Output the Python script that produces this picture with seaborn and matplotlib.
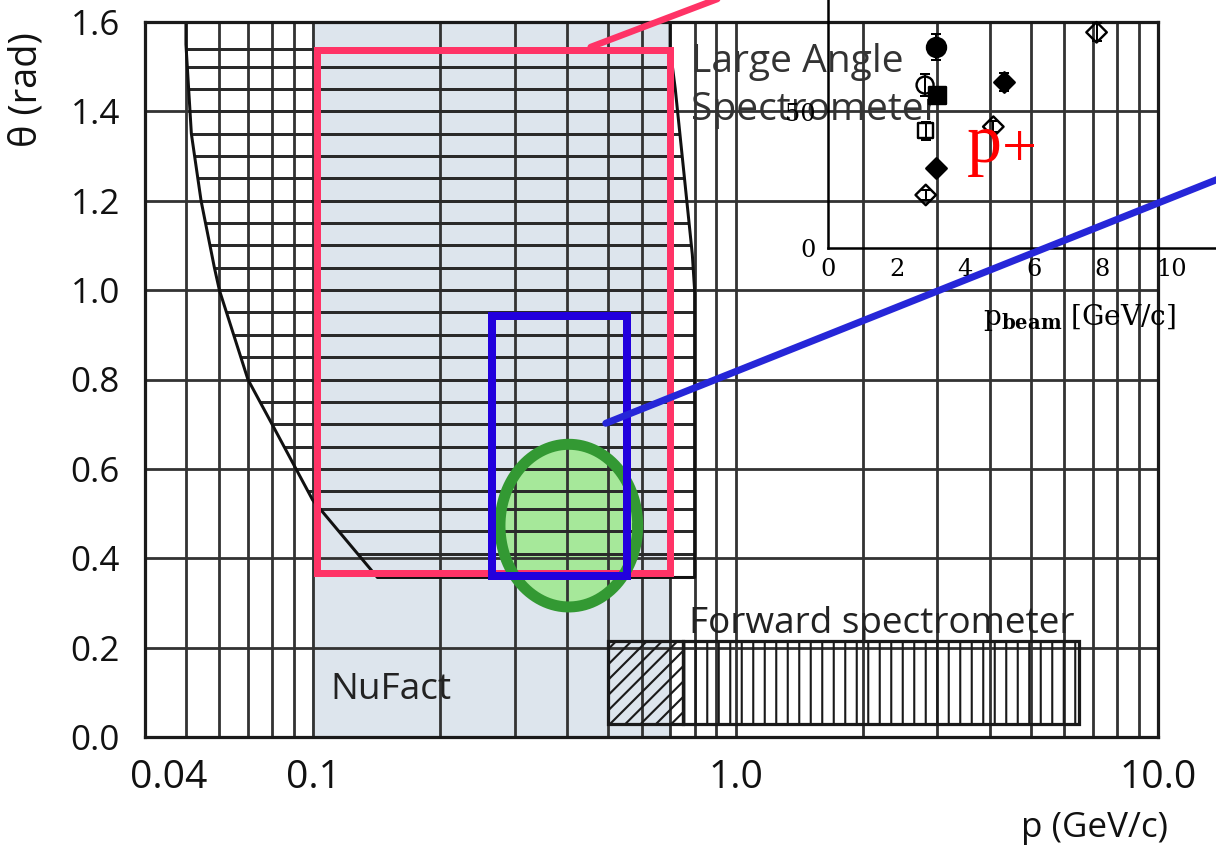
import numpy as np
import pandas as pd
import matplotlib
matplotlib.use("Agg")
import matplotlib.pyplot as plt
import seaborn as sns
from matplotlib.patches import Rectangle, Polygon, ConnectionPatch
from matplotlib.ticker import FixedLocator, LogLocator, NullFormatter, MultipleLocator
from matplotlib.transforms import ScaledTranslation

# ----------------------------------------------------------------------
# values
# ----------------------------------------------------------------------
P_TICKS = [0.04, 0.1, 1.0, 10.0]
P_TICK_LABELS = ['0.04', '0.1', '1.0', '10.0']
THETA_TICKS = [0.0, 0.2, 0.4, 0.6, 0.8, 1.0, 1.2, 1.4, 1.6]

# NuFact band
NUFACT_P = [0.1, 0.7]
NUFACT_THETA = [0.0, 1.6]

# large angle spectrometer acceptance (hatched)
LAS_LEFT_P = [0.050, 0.050, 0.0515, 0.0543, 0.0584, 0.0600, 0.0701, 0.0810, 0.0998, 0.142]
LAS_LEFT_THETA = [1.60, 1.55, 1.35, 1.20, 1.05, 1.00, 0.80, 0.69, 0.53, 0.357]
LAS_RIGHT_P = [0.80, 0.80, 0.79, 0.72, 0.70, 0.70]
LAS_RIGHT_THETA = [0.357, 1.00, 1.08, 1.45, 1.54, 1.60]
LAS_HATCH_THETA = [0.41, 0.46, 0.51, 0.55, 0.60, 0.65, 0.70, 0.75, 0.80, 0.85,
                   0.90, 0.95, 1.00, 1.05, 1.10, 1.15, 1.20, 1.25, 1.30, 1.35,
                   1.40, 1.45, 1.50, 1.54]

# forward spectrometer acceptance
FWD_P = [0.5, 0.75, 6.5]
FWD_THETA = [0.03, 0.215]

# highlighted regions
PINK_P = [0.102, 0.70]
PINK_THETA = [0.366, 1.537]
BLUE_P = [0.265, 0.552]
BLUE_THETA = [0.36, 0.942]
GREEN_CENTER = [0.403, 0.473]
GREEN_HALF = [0.163, 0.182]   # decades in p, rad in theta

PINK_LINK_P = [0.454, 1.02]
PINK_LINK_THETA = [1.544, 1.67]
BLUE_LINK_FROM = [0.493, 0.702]
BLUE_LINK_TO = [12.5, 31.0]   # inset coordinates

# inset
INSET_PBEAM = [3.15, 2.83, 3.17, 2.85, 3.14, 2.85, 5.14, 4.82, 7.83]
INSET_VALUE = [74.0, 59.9, 56.3, 43.1, 29.5, 19.5, 61.1, 44.6, 79.3]
INSET_ERR = [4.7, 4.0, 3.0, 3.3, 1.5, 2.0, 3.2, 2.0, 3.3]
INSET_MARKER = ['o', 'o', 's', 's', 'D', 'D', 'D', 'D', 'D']
INSET_FILLED = [True, False, True, False, True, False, True, False, False]

DPI = 138
W, H = 1216, 850


def px(v):
    return v * 72.0 / DPI


PINK = '#ff3366'
BLUE = '#2200dd'
GRID = '#333333'

sns.set_theme(style='white')
plt.rcParams['font.family'] = ['Open Sans', 'DejaVu Sans']
plt.rcParams['font.weight'] = 'medium'
plt.rcParams['mathtext.fontset'] = 'dejavuserif'
plt.rcParams['hatch.linewidth'] = 1.1

fig = plt.figure(figsize=(W / DPI, H / DPI), dpi=DPI)
fig.patch.set_facecolor('white')
ax = fig.add_axes([145 / W, 113 / H, 1013 / W, 715 / H])
ax.set_xscale('log')
ax.set_xlim(0.04, 10)
ax.set_ylim(0, 1.6)
ax.set_axisbelow(True)

# --- grid / ticks ---
ax.xaxis.set_major_locator(FixedLocator(P_TICKS))
ax.xaxis.set_minor_locator(LogLocator(base=10, subs=np.arange(2, 10)))
ax.xaxis.set_minor_formatter(NullFormatter())
ax.set_xticklabels(P_TICK_LABELS)
ax.set_yticks(THETA_TICKS)
ax.set_yticklabels([f'{t:.1f}' for t in THETA_TICKS])
ax.grid(True, which='both', axis='x', color=GRID, lw=px(2.8))
ax.grid(True, which='major', axis='y', color=GRID, lw=px(2.8))
ax.tick_params(axis='y', which='major', direction='out', length=px(15), width=px(2.8),
               color=GRID, pad=px(10), labelsize=px(35), labelcolor='#111')
ax.tick_params(axis='x', which='major', direction='out', length=px(12), width=px(2.8),
               color=GRID, pad=px(10), labelsize=px(39), labelcolor='#111')
ax.tick_params(axis='x', which='minor', length=0)
for t in ax.xaxis.get_major_ticks()[:2]:
    t.tick1line.set_visible(False)
lbl04 = ax.get_xticklabels()[0]
lbl04.set_transform(lbl04.get_transform() + ScaledTranslation(24 / DPI, 0, fig.dpi_scale_trans))
for s in ax.spines.values():
    s.set_visible(True)
    s.set_color('#1a1a1a')
    s.set_linewidth(px(3.2))

ax.set_ylabel('θ (rad)', fontsize=px(38), color='#111')
ax.yaxis.set_label_coords(-0.1165, 0.905)
ax.yaxis.label.set_verticalalignment('center')
ax.set_xlabel('p (GeV/c)', fontsize=px(35), color='#111')
ax.xaxis.set_label_coords(0.937, -0.127)
ax.xaxis.label.set_verticalalignment('center')

# --- NuFact band ---
ax.add_patch(Rectangle((NUFACT_P[0], NUFACT_THETA[0]), NUFACT_P[1] - NUFACT_P[0],
                       NUFACT_THETA[1] - NUFACT_THETA[0], facecolor='#dde5ed',
                       edgecolor='#9fb5c0', lw=px(2), zorder=0.3))

# --- green region fill sits under the grid and hatching ---
tt = np.linspace(0, 2 * np.pi, 240)
ell_p = 10 ** (np.log10(GREEN_CENTER[0]) + GREEN_HALF[0] * np.cos(tt))
ell_t = GREEN_CENTER[1] + GREEN_HALF[1] * np.sin(tt)
ax.fill(ell_p, ell_t, facecolor='#a6e89a', edgecolor='none', zorder=0.4)

# --- LAS hatched acceptance ---
las_p = LAS_LEFT_P + LAS_RIGHT_P
las_t = LAS_LEFT_THETA + LAS_RIGHT_THETA
clip_poly = Polygon(np.column_stack([las_p, las_t]), closed=True, transform=ax.transData)
hl = ax.hlines(LAS_HATCH_THETA, 0.04, 10, colors='#2a2a2a', lw=px(3.0), zorder=1)
hl.set_clip_path(clip_poly)
sns.lineplot(x=las_p, y=las_t, sort=False, estimator=None, color='#111', lw=px(3.0),
             ax=ax, zorder=2)

# --- forward spectrometer ---
ax.add_patch(Rectangle((FWD_P[0], FWD_THETA[0]), FWD_P[1] - FWD_P[0], FWD_THETA[1] - FWD_THETA[0],
                       fill=False, hatch='///', edgecolor='#1a1a1a', lw=px(3.2), zorder=2))
ax.add_patch(Rectangle((FWD_P[1], FWD_THETA[0]), FWD_P[2] - FWD_P[1], FWD_THETA[1] - FWD_THETA[0],
                       fill=False, hatch='||', edgecolor='#1a1a1a', lw=px(3.2), zorder=2))

# --- highlighted boxes ---
ax.add_patch(Rectangle((PINK_P[0], PINK_THETA[0]), PINK_P[1] - PINK_P[0], PINK_THETA[1] - PINK_THETA[0],
                       fill=False, edgecolor=PINK, lw=px(7), joinstyle='miter', zorder=3))
ax.plot(ell_p, ell_t, color='#339933', lw=px(11), zorder=4)
ax.add_patch(Rectangle((BLUE_P[0], BLUE_THETA[0]), BLUE_P[1] - BLUE_P[0], BLUE_THETA[1] - BLUE_THETA[0],
                       fill=False, edgecolor=BLUE, lw=px(8), joinstyle='miter', zorder=5))
ax.plot(PINK_LINK_P, PINK_LINK_THETA, color=PINK, lw=px(6.5), clip_on=False, zorder=6)

# --- labels ---
ax.text(0.783, 1.488, 'Large Angle', fontsize=px(39), color='#333', ha='left', va='baseline', zorder=7)
ax.text(0.783, 1.380, 'Spectrometer', fontsize=px(39), color='#333', ha='left', va='baseline', zorder=7)
ax.text(0.774, 0.233, 'Forward spectrometer', fontsize=px(37), color='#222', ha='left', va='baseline', zorder=7)
ax.text(0.110, 0.085, 'NuFact', fontsize=px(37), color='#222', ha='left', va='baseline', zorder=7)

# ----------------------------------------------------------------------
# inset (transparent, overlaid on the upper right)
# ----------------------------------------------------------------------
ins = fig.add_axes([828 / W, (H - 248) / H, 411.6 / W, 272 / H])
ins.set_xlim(0, 12)
ins.set_ylim(0, 100)
ins.patch.set_visible(False)
ins.grid(False)
for k in ['top', 'right']:
    ins.spines[k].set_visible(False)
for k in ['left', 'bottom']:
    ins.spines[k].set_color('black')
    ins.spines[k].set_linewidth(px(2.5))
ins.xaxis.set_major_locator(MultipleLocator(2))
ins.xaxis.set_minor_locator(MultipleLocator(0.5))
ins.yaxis.set_major_locator(MultipleLocator(50))
ins.yaxis.set_minor_locator(MultipleLocator(10))
ins.tick_params(which='both', direction='in', color='black', width=px(2),
                labelsize=px(24), labelfontfamily='DejaVu Serif', labelcolor='black')
ins.tick_params(which='major', length=px(12))
ins.tick_params(which='minor', length=px(7))
ins.tick_params(axis='x', pad=px(10))
ins.tick_params(axis='y', pad=px(12))

ins.errorbar(INSET_PBEAM, INSET_VALUE, yerr=INSET_ERR, fmt='none', ecolor='black',
             elinewidth=px(2), capsize=px(5), capthick=px(2), zorder=2)
df = pd.DataFrame({'pbeam': INSET_PBEAM, 'value': INSET_VALUE,
                   'marker': INSET_MARKER, 'filled': INSET_FILLED})
sizes = {'o': px(19) ** 2, 's': px(17) ** 2, 'D': px(14.5) ** 2}
for (m, filled), sub in df.groupby(['marker', 'filled']):
    sns.scatterplot(data=sub, x='pbeam', y='value', marker=m,
                    s=sizes[m] if (filled or m == 'D') else sizes[m] * 0.8,
                    facecolor='black' if filled else 'none', edgecolor='black',
                    linewidth=px(2.4), ax=ins, legend=False, zorder=3)

ins.set_xlabel(r'p$_{\mathbf{beam}}$ [GeV/c]', fontsize=px(28), family='DejaVu Serif',
               color='black', fontweight='normal')
ins.xaxis.set_label_coords(0.612, -0.257)
ins.xaxis.label.set_verticalalignment('center')
ins.set_ylabel('')

ins.text(4.05, 31.6, 'p', color='red', fontsize=px(70), family='Liberation Serif',
         fontweight='normal', ha='left', va='baseline', zorder=5)
ins.text(5.07, 35.5, '+', color='red', fontsize=px(62), family='Liberation Serif',
         fontweight='normal', ha='left', va='center', zorder=5)

con = ConnectionPatch(xyA=BLUE_LINK_FROM, coordsA=ax.transData,
                      xyB=BLUE_LINK_TO, coordsB=ins.transData,
                      color='#2626d8', lw=px(7))
fig.add_artist(con)

fig.savefig('out.png', dpi=DPI)
